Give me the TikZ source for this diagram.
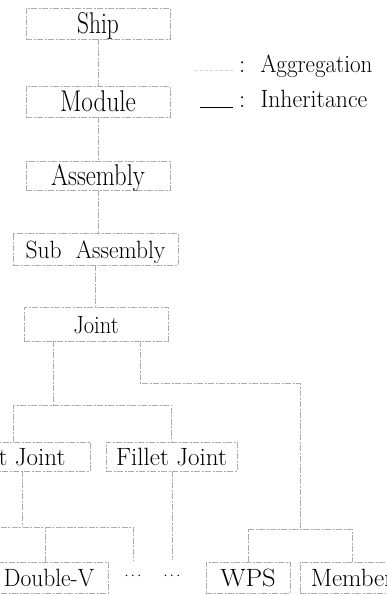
\documentclass[tikz,border=0pt]{standalone}
\usepackage{fontspec}
\newcommand{\sxt}[2]{\scalebox{#1}[1]{#2}}
\tikzset{
  boxline/.style={draw=gray!65, line width=0.7pt, dash pattern=on 6pt off 1.5pt on 2pt off 1.5pt},
  bigbox/.style={boxline, inner sep=0pt, font=\fontsize{30}{36}\selectfont, text height=20.5pt, text depth=0pt},
  smallbox/.style={boxline, inner sep=0pt, font=\fontsize{25}{30}\selectfont, text height=18pt, text depth=0pt},
  conn/.style={draw=gray!65, line width=0.7pt, dash pattern=on 6pt off 1.5pt on 2pt off 1.5pt},
  aggline/.style={draw=gray!35, line width=0.7pt, dash pattern=on 3pt off 2pt},
  inhline/.style={draw=black, line width=0.9pt},
  legtext/.style={inner sep=0pt, anchor=base west, font=\fontsize{25}{30}\selectfont},
  dotnode/.style={inner sep=0pt, minimum height=31pt, font=\fontsize{15}{18}\selectfont}
}
\begin{document}
\begin{tikzpicture}[x=1pt,y=-1pt]
\useasboundingbox (0,0) rectangle (386,595);
\clip (0,0) rectangle (386,595);
\fill[white] (0,0) rectangle (386,595);

% boxes
\node[bigbox, minimum width=144pt, minimum height=31pt] (ship) at (98,23.5) {\sxt{0.78}{Ship}};
\node[bigbox, minimum width=144pt, minimum height=31pt] (module) at (98,101.5) {\sxt{0.84}{Module}};
\node[bigbox, minimum width=144pt, minimum height=29pt] (assembly) at (98,175.5) {\sxt{0.82}{Assembly}};
\node[smallbox, minimum width=165pt, minimum height=32pt] (sub) at (95.5,249) {\sxt{0.94}{Sub\ \ Assembly}};
\node[smallbox, minimum width=144pt, minimum height=34pt] (joint) at (96,324) {\sxt{0.9}{Joint}};
\node[smallbox, minimum width=154pt, minimum height=29pt] (butt) at (13,456.5) {\sxt{1}{Butt\ Joint}};
\node[smallbox, minimum width=131pt, minimum height=29pt] (fillet) at (171.5,456.5) {\sxt{1}{Fillet\ Joint}};
\node[smallbox, minimum width=118pt, minimum height=31pt] (dv) at (49,577.5) {\sxt{0.94}{Double-V}};
\node[dotnode] (dots1) at (133,576) {$\cdots$};
\node[dotnode] (dots2) at (172,576) {$\cdots$};
\node[smallbox, minimum width=84pt, minimum height=31pt] (wps) at (248,577.5) {\sxt{1.06}{WPS}};
\node[smallbox, minimum width=104pt, minimum height=31pt] (member) at (352,577.5) {\sxt{1}{Member}};

% junction coordinates
\coordinate (jl) at (53,405);
\coordinate (jr) at (140,383);
\coordinate (jrr) at (300,383);
\coordinate (jw) at (300,529);
\coordinate (jb) at (22,527);

% vertical chain
\draw[conn] (ship.south) -- (module.north);
\draw[conn] (module.south) -- (assembly.north);
\draw[conn] (assembly.south) -- (assembly.south |- sub.north);
\draw[conn] (sub.south) -- (sub.south |- joint.north);

% Joint -> Butt / Fillet
\draw[conn] (joint.south -| jl) -- (jl);
\draw[conn] (butt.north) -- (butt.north |- jl) -- (fillet.north |- jl) -- (fillet.north);

% Joint -> WPS / Member
\draw[conn] (joint.south -| jr) -- (jr) -- (jrr) -- (jw);
\draw[conn] (wps.north) -- (wps.north |- jw) -- (member.north |- jw) -- (member.north);

% Butt -> Double-V ...
\draw[conn] (butt.south -| jb) -- (jb);
\draw[conn] (dv.west |- jb) -- (dots1.north |- jb) -- (dots1.north);
\draw[conn] (dv.north -| 45,0) -- (45,527);

% Fillet -> ...
\draw[conn] (fillet.south -| dots2.north) -- (dots2.north);

% legend
\coordinate (a1) at (195,70);
\coordinate (a2) at (235,70);
\draw[aggline] (a1) -- (a2);
\node[legtext] (aggtxt) at (239,72) {:\ \ \sxt{0.92}{Aggregation}};
\coordinate (i1) at (200,107);
\coordinate (i2) at (233,107);
\draw[inhline] (i1) -- (i2);
\node[legtext] (inhtxt) at (239,107) {:\ \ \sxt{0.95}{Inheritance}};
\end{tikzpicture}
\end{document}
